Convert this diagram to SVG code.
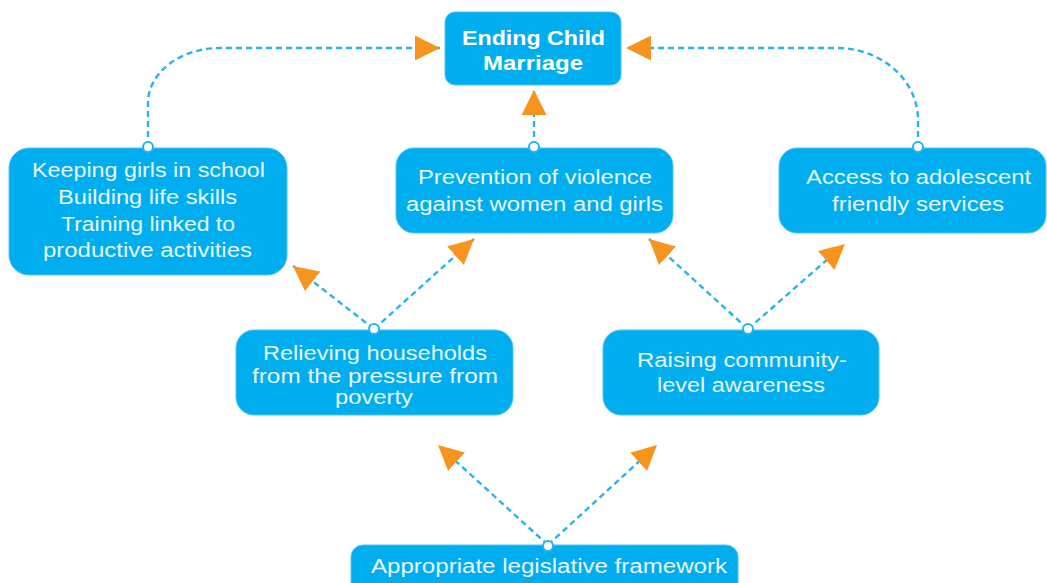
<svg xmlns="http://www.w3.org/2000/svg" width="1047" height="583" viewBox="0 0 1047 583">
<style>
.box{fill:#00AEEF;stroke:#4FC4F2;stroke-width:1}
.t{font-family:"Liberation Sans",Arial,sans-serif;font-size:20px;fill:#E8F7FD;text-anchor:middle}
.tb{font-family:"Liberation Sans",Arial,sans-serif;font-size:20px;font-weight:bold;fill:#FFFFFF;text-anchor:middle}
.c{fill:none;stroke:#29B4E8;stroke-width:2.4;stroke-dasharray:6 4}
.dot{fill:#FFFFFF;stroke:#29B4E8;stroke-width:2}
</style>
<defs>
<marker id="ah" viewBox="0 0 24 24" refX="24" refY="12" markerWidth="25" markerHeight="25" markerUnits="userSpaceOnUse" orient="auto">
<path d="M0,0 L24,12 L0,24 Z" fill="#F7941D"/>
</marker>
</defs>
<rect width="1047" height="583" fill="#FFFFFF"/>
<g id="connectors">
<path class="c" d="M148,147 L148,103 A72,55 0 0 1 220,48 L440,48" marker-end="url(#ah)"/>
<path class="c" d="M918,147 L918,120 A81,72 0 0 0 837,48 L626,48" marker-end="url(#ah)"/>
<path class="c" d="M534,147 L534,90" marker-end="url(#ah)"/>
<path class="c" d="M374,329 L293,266" marker-end="url(#ah)"/>
<path class="c" d="M374,329 L474,239" marker-end="url(#ah)"/>
<path class="c" d="M748,329 L649,239" marker-end="url(#ah)"/>
<path class="c" d="M748,329 L845,244" marker-end="url(#ah)"/>
<path class="c" d="M548,545 L438,445" marker-end="url(#ah)"/>
<path class="c" d="M548,545 L657,445" marker-end="url(#ah)"/>
</g>
<g id="ending">
<rect class="box" x="445" y="12" width="176" height="73" rx="10"/>
<text class="tb" x="533.5" y="45" textLength="143" lengthAdjust="spacingAndGlyphs">Ending Child</text>
<text class="tb" x="533" y="70" textLength="100" lengthAdjust="spacingAndGlyphs">Marriage</text>
</g>
<g id="school">
<rect class="box" x="9" y="148" width="278" height="127" rx="20"/>
<text class="t" x="148.5" y="177" textLength="233" lengthAdjust="spacingAndGlyphs">Keeping girls in school</text>
<text class="t" x="147.5" y="204" textLength="179" lengthAdjust="spacingAndGlyphs">Building life skills</text>
<text class="t" x="148" y="231" textLength="174" lengthAdjust="spacingAndGlyphs">Training linked to</text>
<text class="t" x="147.5" y="257" textLength="209" lengthAdjust="spacingAndGlyphs">productive activities</text>
<circle class="dot" cx="148" cy="147" r="5"/>
</g>
<g id="prevention">
<rect class="box" x="396" y="148" width="277" height="85" rx="18"/>
<text class="t" x="535" y="184" textLength="234" lengthAdjust="spacingAndGlyphs">Prevention of violence</text>
<text class="t" x="534.5" y="211" textLength="257" lengthAdjust="spacingAndGlyphs">against women and girls</text>
<circle class="dot" cx="534" cy="147" r="5"/>
</g>
<g id="access">
<rect class="box" x="779" y="148" width="267" height="85" rx="18"/>
<text class="t" x="918.5" y="184" textLength="225" lengthAdjust="spacingAndGlyphs">Access to adolescent</text>
<text class="t" x="918" y="211" textLength="172" lengthAdjust="spacingAndGlyphs">friendly services</text>
<circle class="dot" cx="918" cy="147" r="5"/>
</g>
<g id="relieving">
<rect class="box" x="236" y="330" width="277" height="85" rx="18"/>
<text class="t" x="375" y="360" textLength="224" lengthAdjust="spacingAndGlyphs">Relieving households</text>
<text class="t" x="375" y="383" textLength="246" lengthAdjust="spacingAndGlyphs">from the pressure from</text>
<text class="t" x="374" y="404" textLength="78" lengthAdjust="spacingAndGlyphs">poverty</text>
<circle class="dot" cx="374" cy="329" r="5"/>
</g>
<g id="raising">
<rect class="box" x="603" y="330" width="276" height="85" rx="18"/>
<text class="t" x="742" y="367" textLength="210" lengthAdjust="spacingAndGlyphs">Raising community-</text>
<text class="t" x="741" y="392" textLength="168" lengthAdjust="spacingAndGlyphs">level awareness</text>
<circle class="dot" cx="748" cy="329" r="5"/>
</g>
<g id="legislative">
<rect class="box" x="351" y="545" width="387" height="60" rx="12"/>
<text class="t" x="549" y="573" textLength="356" lengthAdjust="spacingAndGlyphs">Appropriate legislative framework</text>
<circle class="dot" cx="548" cy="546" r="5"/>
</g>
</svg>
